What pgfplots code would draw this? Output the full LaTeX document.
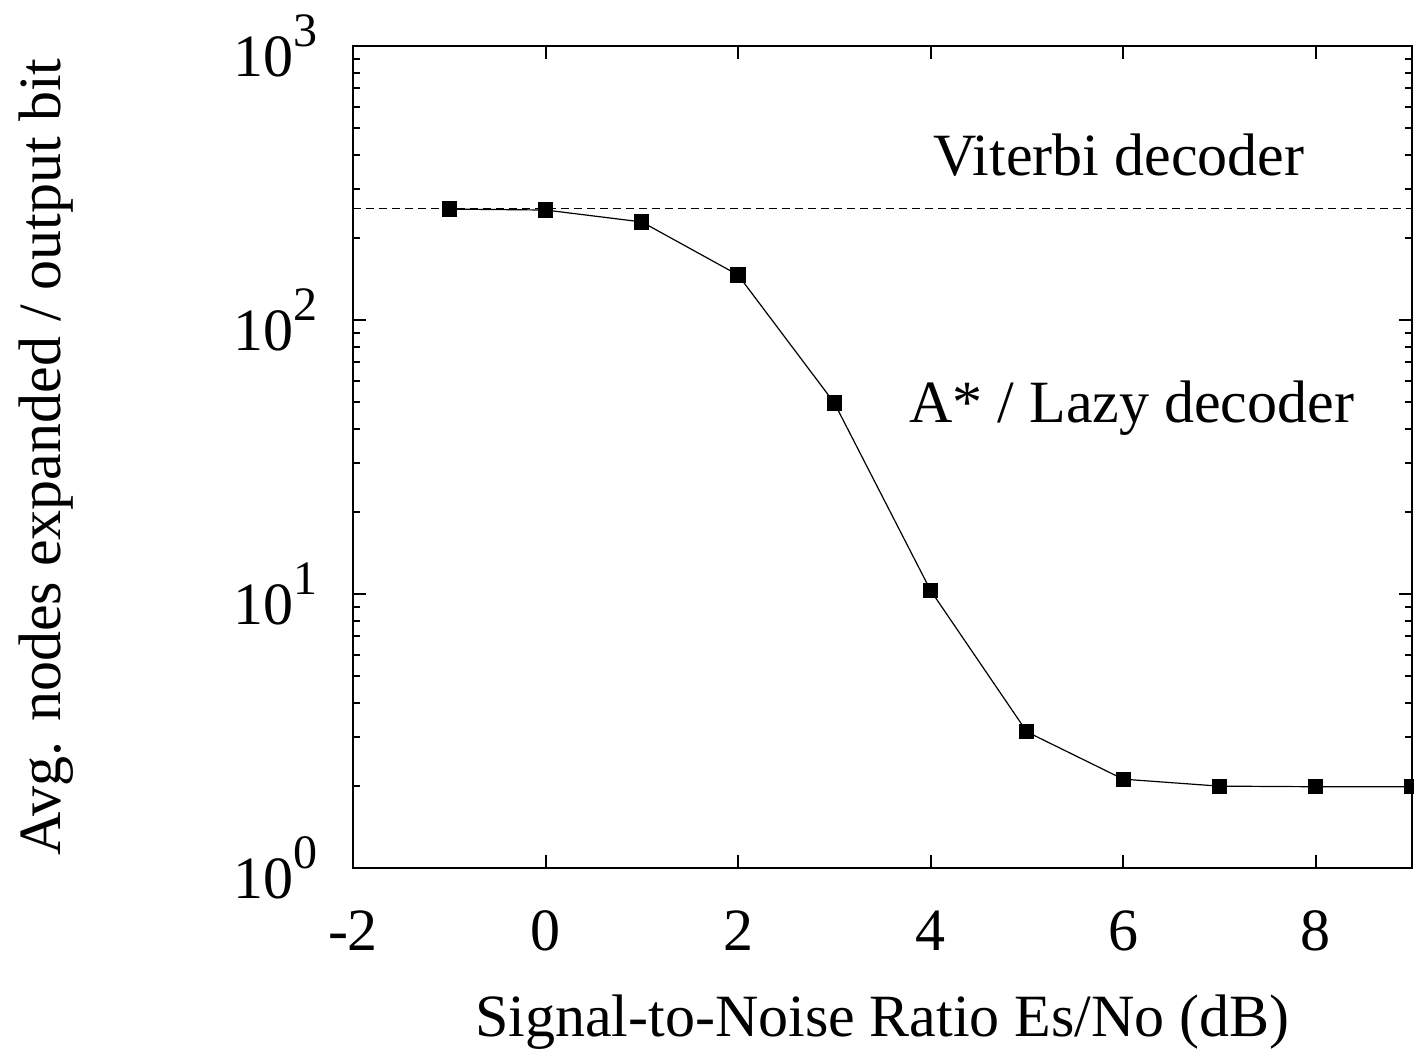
\documentclass[border=0pt]{standalone}
\usepackage{fontspec}
\setmainfont{Liberation Serif}
\usepackage{pgfplots}
\pgfplotsset{compat=1.18}

\begin{document}
\begin{tikzpicture}
% fixed frame: 1 px of the reference = 0.25pt
\useasboundingbox (-88.25pt,-46pt) rectangle (265.25pt,217pt);
\begin{axis}[
    at={(0,0)}, anchor=south west,
    scale only axis,
    width=264.75pt, height=205.5pt,
    ymode=log,
    xmin=-2, xmax=9,
    ymin=1, ymax=1000,
    xtick={-2,0,2,4,6,8},
    xticklabels={-2,0,2,4,6,8},
    ytick={1,10,100,1000},
    yticklabels={10\raisebox{0.5em}{\fontsize{12}{12}\selectfont 0},
                 10\raisebox{0.5em}{\fontsize{12}{12}\selectfont 1},
                 10\raisebox{0.5em}{\fontsize{12}{12}\selectfont 2},
                 10\raisebox{0.5em}{\fontsize{12}{12}\selectfont 3}},
    minor x tick num=0,
    tick pos=both,
    tick align=inside,
    major tick length=3.25pt,
    minor tick length=1.75pt,
    every tick/.style={black, line width=0.5pt},
    axis line style={line width=0.5pt},
    tick label style={font=\fontsize{15}{18}\selectfont, inner sep=0pt},
    xticklabel style={anchor=north, yshift=-10.5pt},
    yticklabel style={anchor=east, xshift=-8.75pt},
    label style={font=\fontsize{15}{18}\selectfont},
    xlabel={Signal-to-Noise Ratio Es/No (dB)},
    ylabel={Avg. nodes expanded / output bit},
    xlabel style={at={(axis description cs:0.5,-0.187)}, anchor=center},
    ylabel style={at={(axis description cs:-0.2898,0.5)}, anchor=center, rotate=0},
]

% Viterbi reference level
\addplot[black, line width=0.3pt, dash pattern=on 2pt off 1.25pt] coordinates {
    (-2,256) (9,256)
};

% A* / lazy decoder
\addplot[black, line width=0.3pt, mark=square*, mark size=1.75pt,
    mark options={solid, fill=black}] coordinates {
    (-1,254) (0,252) (1,228) (2,146) (3,49.8) (4,10.3)
    (5,3.14) (6,2.11) (7,1.99) (8,1.98) (9,1.98)
};

\node[font=\fontsize{15}{18}\selectfont, anchor=base] at (axis cs:5.955,338) {Viterbi decoder};
\node[font=\fontsize{15}{18}\selectfont, anchor=base] at (axis cs:6.09,42.1) {A* / Lazy decoder};

\end{axis}
\end{tikzpicture}
\end{document}
